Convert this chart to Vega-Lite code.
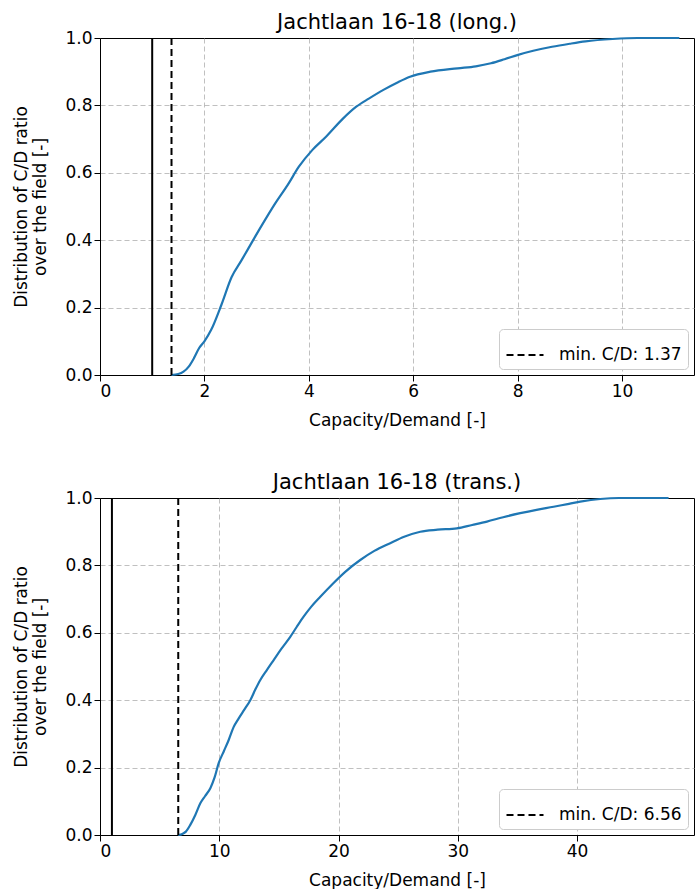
{
  "$schema": "https://vega.github.io/schema/vega-lite/v6.json",
  "padding": {"left": 12, "top": 11, "right": 0, "bottom": 0},
  "spacing": 42,
  "config": {
    "font": "DejaVu Sans",
    "view": {"stroke": "black", "strokeWidth": 1},
    "axis": {
      "domainColor": "black", "tickColor": "black", "tickSize": 6, "labelPadding": 2,
      "labelFontSize": 17, "labelColor": "black", "titleFontSize": 17, "titleFontWeight": "normal", "titleColor": "black",
      "gridColor": "#b0b0b0", "gridDash": [5, 3], "gridWidth": 1,
      "gridOpacity": {"condition": {"test": "datum.value == 1", "value": 0}, "value": 0.8}
    },
    "title": {"fontSize": 21, "fontWeight": "normal", "color": "black", "offset": -4},
    "legend": {
      "orient": "bottom-right", "fillColor": "white", "strokeColor": "#cccccc", "cornerRadius": 4,
      "padding": 6, "offset": 6, "labelFontSize": 17, "labelColor": "black", "symbolStrokeWidth": 2.2,
      "symbolSize": 1369, "symbolType": "M-1,0H1", "labelOffset": 14, "title": null
    }
  },
  "datasets": {
    "long": [
      {"x": 1.37, "y": 0}, {"x": 1.5, "y": 0.003}, {"x": 1.6, "y": 0.01}, {"x": 1.7, "y": 0.025}, {"x": 1.8, "y": 0.05},
      {"x": 1.9, "y": 0.08}, {"x": 2.0, "y": 0.1}, {"x": 2.13, "y": 0.134}, {"x": 2.33, "y": 0.21}, {"x": 2.52, "y": 0.29},
      {"x": 2.71, "y": 0.34}, {"x": 2.97, "y": 0.41}, {"x": 3.2, "y": 0.47}, {"x": 3.36, "y": 0.51}, {"x": 3.6, "y": 0.565},
      {"x": 3.81, "y": 0.618}, {"x": 4.07, "y": 0.668}, {"x": 4.33, "y": 0.707}, {"x": 4.65, "y": 0.76}, {"x": 4.91, "y": 0.796},
      {"x": 5.15, "y": 0.82}, {"x": 5.43, "y": 0.846}, {"x": 5.7, "y": 0.868}, {"x": 5.94, "y": 0.885}, {"x": 6.33, "y": 0.9},
      {"x": 6.85, "y": 0.91}, {"x": 7.2, "y": 0.916}, {"x": 7.49, "y": 0.925}, {"x": 7.75, "y": 0.937}, {"x": 8.01, "y": 0.95},
      {"x": 8.3, "y": 0.962}, {"x": 8.66, "y": 0.974}, {"x": 9.0, "y": 0.983}, {"x": 9.3, "y": 0.99}, {"x": 9.82, "y": 0.997},
      {"x": 10.3, "y": 1.0}, {"x": 11.1, "y": 1.0}
    ],
    "trans": [
      {"x": 6.56, "y": 0}, {"x": 6.9, "y": 0.003}, {"x": 7.2, "y": 0.01}, {"x": 7.57, "y": 0.03}, {"x": 8.0, "y": 0.06},
      {"x": 8.41, "y": 0.094}, {"x": 8.8, "y": 0.115}, {"x": 9.25, "y": 0.139}, {"x": 9.6, "y": 0.17}, {"x": 9.95, "y": 0.213},
      {"x": 10.4, "y": 0.25}, {"x": 10.79, "y": 0.282}, {"x": 11.2, "y": 0.32}, {"x": 11.63, "y": 0.346}, {"x": 12.1, "y": 0.372},
      {"x": 12.6, "y": 0.4}, {"x": 13.0, "y": 0.43}, {"x": 13.44, "y": 0.46}, {"x": 14.0, "y": 0.49}, {"x": 14.56, "y": 0.519},
      {"x": 15.2, "y": 0.552}, {"x": 15.95, "y": 0.588}, {"x": 16.5, "y": 0.618}, {"x": 17.07, "y": 0.648}, {"x": 17.7, "y": 0.677},
      {"x": 18.47, "y": 0.707}, {"x": 19.5, "y": 0.745}, {"x": 20.56, "y": 0.781}, {"x": 21.82, "y": 0.816}, {"x": 23.0, "y": 0.843},
      {"x": 24.33, "y": 0.866}, {"x": 25.5, "y": 0.885}, {"x": 26.85, "y": 0.9}, {"x": 28.3, "y": 0.906}, {"x": 29.92, "y": 0.91},
      {"x": 31.2, "y": 0.92}, {"x": 32.44, "y": 0.93}, {"x": 33.8, "y": 0.943}, {"x": 35.23, "y": 0.955}, {"x": 36.6, "y": 0.965},
      {"x": 38.03, "y": 0.974}, {"x": 39.2, "y": 0.982}, {"x": 40.26, "y": 0.989}, {"x": 41.94, "y": 0.997}, {"x": 43.5, "y": 1.0},
      {"x": 47.67, "y": 1.0}
    ],
    "rulesLong": [{"x": 1.37, "label": "min. C/D: 1.37"}],
    "rulesTrans": [{"x": 6.56, "label": "min. C/D: 6.56"}],
    "unity": [{"x": 1}]
  },
  "vconcat": [
    {
      "title": "Jachtlaan 16-18 (long.)",
      "width": 594,
      "height": 337,
      "view": {"stroke": "black", "strokeWidth": 1},
      "layer": [
        {
          "data": {"name": "long"},
          "mark": {"type": "line", "color": "#1f77b4", "strokeWidth": 2.2, "interpolate": "monotone"},
          "encoding": {
            "x": {"field": "x", "type": "quantitative", "scale": {"domain": [0, 11.38], "nice": false, "zero": false},
                  "axis": {"values": [0, 2, 4, 6, 8, 10], "title": "Capacity/Demand [-]", "titlePadding": 13, "grid": true}},
            "y": {"field": "y", "type": "quantitative", "scale": {"domain": [0, 1], "nice": false},
                  "axis": {"values": [0, 0.2, 0.4, 0.6, 0.8, 1.0], "format": ".1f", "title": ["Distribution of C/D ratio", "over the field [-]"], "titlePadding": 15, "grid": true}}
          }
        },
        {
          "data": {"name": "unity"},
          "mark": {"type": "rule", "color": "black", "strokeWidth": 2},
          "encoding": {"x": {"field": "x", "type": "quantitative"}}
        },
        {
          "data": {"name": "rulesLong"},
          "mark": {"type": "rule", "strokeWidth": 2},
          "encoding": {
            "x": {"field": "x", "type": "quantitative"},
            "color": {"field": "label", "type": "nominal", "scale": {"range": ["black"]}},
            "strokeDash": {"field": "label", "type": "nominal", "scale": {"range": [[7, 4]]}}
          }
        }
      ]
    },
    {
      "title": "Jachtlaan 16-18 (trans.)",
      "width": 594,
      "height": 337,
      "view": {"stroke": "black", "strokeWidth": 1},
      "layer": [
        {
          "data": {"name": "trans"},
          "mark": {"type": "line", "color": "#1f77b4", "strokeWidth": 2.2, "interpolate": "monotone"},
          "encoding": {
            "x": {"field": "x", "type": "quantitative", "scale": {"domain": [0, 49.8], "nice": false, "zero": false},
                  "axis": {"values": [0, 10, 20, 30, 40], "title": "Capacity/Demand [-]", "titlePadding": 13, "grid": true}},
            "y": {"field": "y", "type": "quantitative", "scale": {"domain": [0, 1], "nice": false},
                  "axis": {"values": [0, 0.2, 0.4, 0.6, 0.8, 1.0], "format": ".1f", "title": ["Distribution of C/D ratio", "over the field [-]"], "titlePadding": 15, "grid": true}}
          }
        },
        {
          "data": {"name": "unity"},
          "mark": {"type": "rule", "color": "black", "strokeWidth": 2},
          "encoding": {"x": {"field": "x", "type": "quantitative"}}
        },
        {
          "data": {"name": "rulesTrans"},
          "mark": {"type": "rule", "strokeWidth": 2},
          "encoding": {
            "x": {"field": "x", "type": "quantitative"},
            "color": {"field": "label", "type": "nominal", "scale": {"range": ["black"]}},
            "strokeDash": {"field": "label", "type": "nominal", "scale": {"range": [[7, 4]]}}
          }
        }
      ]
    }
  ],
  "resolve": {"scale": {"color": "independent", "strokeDash": "independent"}, "legend": {"color": "independent", "strokeDash": "independent"}}
}
